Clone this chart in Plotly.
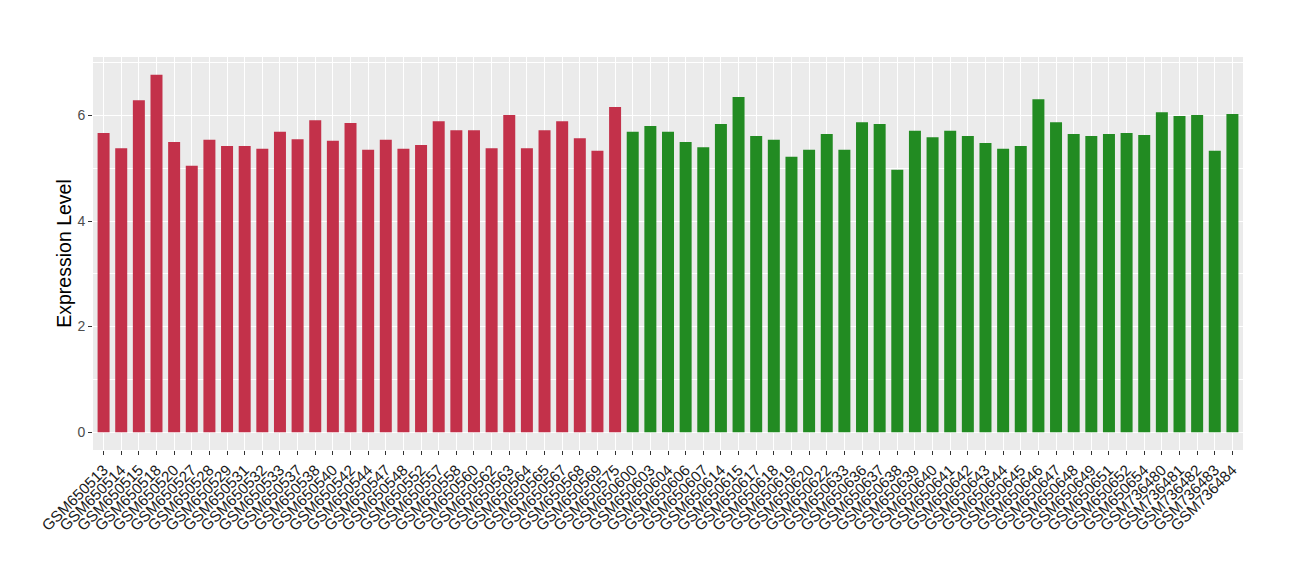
import plotly.graph_objects as go

samples_a = ["GSM650513","GSM650514","GSM650515","GSM650518","GSM650520","GSM650527","GSM650528","GSM650529",
             "GSM650531","GSM650532","GSM650533","GSM650537","GSM650538","GSM650540","GSM650542","GSM650544",
             "GSM650547","GSM650548","GSM650552","GSM650557","GSM650558","GSM650560","GSM650562","GSM650563",
             "GSM650564","GSM650565","GSM650567","GSM650568","GSM650569","GSM650575"]
values_a = [5.67,5.38,6.29,6.77,5.50,5.05,5.54,5.42,5.42,5.37,5.69,5.55,5.91,5.52,5.86,5.35,5.54,5.37,5.44,5.89,
            5.72,5.72,5.38,6.01,5.38,5.72,5.89,5.57,5.33,6.16]

samples_b = ["GSM650600","GSM650603","GSM650604","GSM650606","GSM650607","GSM650614","GSM650615","GSM650617",
             "GSM650618","GSM650619","GSM650620","GSM650622","GSM650633","GSM650636","GSM650637","GSM650638",
             "GSM650639","GSM650640","GSM650641","GSM650642","GSM650643","GSM650644","GSM650645","GSM650646",
             "GSM650647","GSM650648","GSM650649","GSM650651","GSM650652","GSM650654","GSM736480","GSM736481",
             "GSM736482","GSM736483","GSM736484"]
values_b = [5.69,5.80,5.69,5.50,5.40,5.84,6.35,5.61,5.54,5.22,5.35,5.65,5.35,5.87,5.84,4.97,5.71,5.59,5.71,5.61,
            5.48,5.37,5.42,6.31,5.87,5.65,5.61,5.65,5.67,5.63,6.06,5.99,6.01,5.33,6.03]

y_ticks = [0, 2, 4, 6]

all_samples = samples_a + samples_b

fig = go.Figure()
fig.add_trace(go.Bar(x=samples_a, y=values_a, marker=dict(color="#C3314A", line=dict(width=0)), showlegend=False))
fig.add_trace(go.Bar(x=samples_b, y=values_b, marker=dict(color="#228B22", line=dict(width=0)), showlegend=False))

n = len(all_samples)
ymax = max(values_a + values_b)

# page body has an 8px margin, so the figure is sized to fit inside the window
fig.update_layout(
    width=1292, height=572,
    margin=dict(l=85, r=57, t=49, b=130),
    paper_bgcolor="white", plot_bgcolor="#EBEBEB",
    bargap=0.32,
    font=dict(family="Liberation Sans, Arial, sans-serif", color="#000000"),
    xaxis=dict(
        type="category", categoryorder="array", categoryarray=all_samples,
        range=[-0.6, n - 1 + 0.6], automargin=False,
        tickmode="array", tickvals=all_samples, ticktext=all_samples,
        tickangle=-45, tickfont=dict(size=15.3, color="#1A1A1A"),
        showgrid=True, gridcolor="white", gridwidth=1.2,
        ticks="outside", ticklen=4, tickcolor="#333333", tickwidth=1,
        showline=False, zeroline=False,
    ),
    yaxis=dict(
        range=[-0.05 * ymax, ymax * 1.05], automargin=False,
        tickvals=y_ticks, ticktext=[str(v) for v in y_ticks],
        tickfont=dict(size=14, color="#4D4D4D"),
        title=dict(text="Expression Level", font=dict(size=19.5, color="#000000"), standoff=0),
        showgrid=True, gridcolor="white", gridwidth=1.2,
        minor=dict(tickvals=[1, 3, 5, 7], showgrid=True, gridcolor="white", gridwidth=0.6, ticks=""),
        ticks="outside", ticklen=4, tickcolor="#333333", tickwidth=1,
        showline=False, zeroline=False,
    ),
)

fig.write_html("out.html")
